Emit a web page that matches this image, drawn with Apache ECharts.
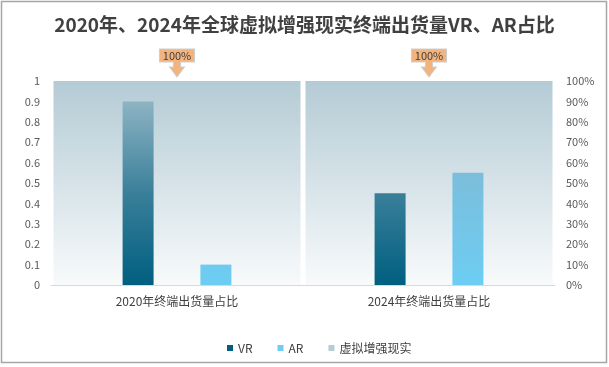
<!DOCTYPE html>
<html><head><meta charset="utf-8">
<script src="https://cdn.jsdelivr.net/npm/echarts@6/dist/echarts.min.js"></script>
<style>html,body{margin:0;padding:0;background:#fff}#c{width:609px;height:367px}</style>
</head><body><div id="c"></div>
<script>
var titleText = '2020年、2024年全球虚拟增强现实终端出货量VR、AR占比';
var categories = ['2020年终端出货量占比', '2024年终端出货量占比'];
var vrValues = [0.9, 0.45];
var arValues = [0.1, 0.55];
var totalValues = [1, 1];
var totalLabels = ['100%', '100%'];
var seriesNames = ['VR', 'AR', '虚拟增强现实'];

var FONT = 'Noto Sans CJK SC';
var chart = echarts.init(document.getElementById('c'));
var G = echarts.graphic.LinearGradient;
// global gradient: from plot bottom (y=285) to plot top (y=81)
var vrGrad = new G(0, 285, 0, 81, [
  {offset: 0, color: '#005f80'},
  {offset: 0.45, color: '#3a7f9a'},
  {offset: 0.9, color: '#8db4c3'},
  {offset: 1, color: '#9ec0cc'}
], true);
var arGrad = new G(0, 285, 0, 81, [
  {offset: 0, color: '#6dcdf3'},
  {offset: 0.55, color: '#7bbedb'},
  {offset: 1, color: '#8ab3c8'}
], true);
var bgGrad = new G(0, 0, 0, 1, [
  {offset: 0, color: '#b4cbd5'},
  {offset: 1, color: '#f8fafb'}
]);
var calloutPath = 'path://M0 0H35V13H21V18H25L17.5 28L10 18H14V13H0Z';

chart.setOption({
  animation: false,
  backgroundColor: '#fff',
  title: {
    text: titleText, left: 'center', top: 10,
    textStyle: {fontFamily: FONT, fontSize: 19, fontWeight: 'bold', color: '#404040'}
  },
  legend: {
    left: 222, top: 337, itemWidth: 6, itemHeight: 6, itemGap: 25,
    icon: 'rect',
    textStyle: {fontFamily: FONT, fontSize: 12, color: '#404040'},
    data: [
      {name: seriesNames[0], itemStyle: {color: '#005f80'}},
      {name: seriesNames[1], itemStyle: {color: '#6dcdf3'}},
      {name: seriesNames[2], itemStyle: {color: '#b7cbd6'}}
    ]
  },
  grid: {left: 51, right: 54, top: 81, bottom: 82},
  xAxis: [
    {
      type: 'category', data: categories,
      axisLine: {lineStyle: {color: '#d9d9d9'}},
      axisTick: {show: false},
      axisLabel: {fontFamily: FONT, fontSize: 12, color: '#404040', margin: 10}
    },
    {type: 'category', data: categories, show: false}
  ],
  yAxis: [
    {
      type: 'value', min: 0, max: 1, interval: 0.1,
      axisLine: {show: false}, axisTick: {show: false}, splitLine: {show: false},
      axisLabel: {fontFamily: FONT, fontSize: 11, color: '#595959', margin: 11}
    },
    {
      type: 'value', min: 0, max: 100, interval: 10, position: 'right',
      axisLine: {show: false}, axisTick: {show: false}, splitLine: {show: false},
      axisLabel: {fontFamily: FONT, fontSize: 11, color: '#595959', margin: 11, formatter: '{value}%'}
    }
  ],
  series: [
    {
      name: seriesNames[2], type: 'bar', xAxisIndex: 1, yAxisIndex: 0,
      data: totalValues, barWidth: 247, z: 1,
      itemStyle: {color: bgGrad},
      markPoint: {
        symbol: calloutPath, symbolSize: [35, 28], symbolKeepAspect: false,
        symbolOffset: [0, -18],
        itemStyle: {color: '#f2b37c', borderColor: '#cfcfcf', borderWidth: 1},
        label: {show: true, position: 'inside', offset: [0, -7.5], fontFamily: FONT, fontSize: 11, color: '#404040'},
        data: totalValues.map(function (v, i) {
          return {coord: [i, v], value: totalLabels[i]};
        })
      }
    },
    {
      name: seriesNames[0], type: 'bar', xAxisIndex: 0, yAxisIndex: 0,
      data: vrValues, barWidth: 31, barGap: '151%', z: 3,
      itemStyle: {color: vrGrad}
    },
    {
      name: seriesNames[1], type: 'bar', xAxisIndex: 0, yAxisIndex: 0,
      data: arValues, barWidth: 31, barGap: '151%', z: 3,
      itemStyle: {color: arGrad}
    }
  ],
  graphic: [{
    type: 'rect', silent: true, z: 100,
    shape: {x: 1.5, y: 1.5, width: 605, height: 361},
    style: {fill: 'none', stroke: '#a6a6a6', lineWidth: 1.5}
  }]
});
</script></body></html>
